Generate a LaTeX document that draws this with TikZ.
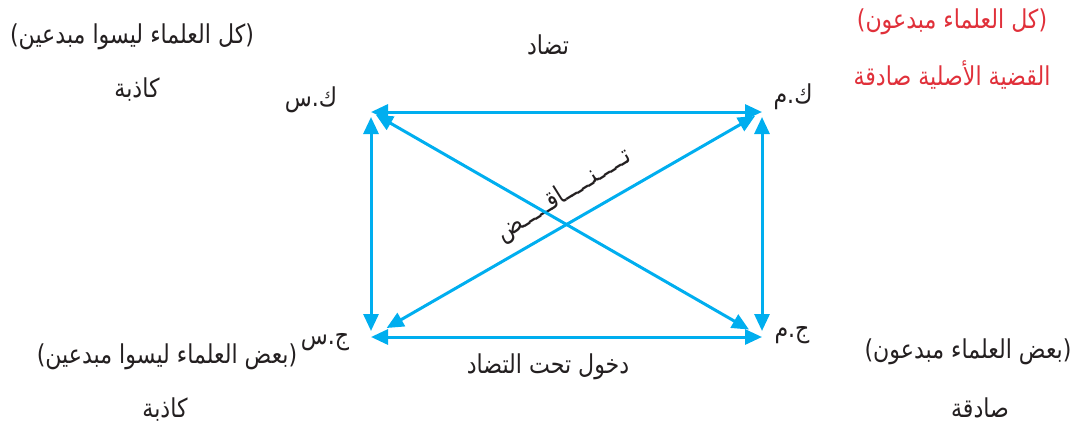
\documentclass[tikz,border=0pt]{standalone}
\usepackage{fontspec}
\usetikzlibrary{
	positioning,
	arrows.meta
}
\TeXXeTstate=1
\newfontfamily\arabicfont[Script=Arabic, FakeStretch=0.85]{DejaVu Sans}
\definecolor{linkcolor}{HTML}{00AEEF}
\definecolor{truecolor}{HTML}{E0303A}
\definecolor{labelcolor}{HTML}{231F20}
\newcommand{\artext}[1]{\beginR #1\endR}
\tikzset{
	lbl/.style={
		text=labelcolor,
		inner sep=0pt,
		font=\arabicfont\fontsize{13}{15}\selectfont
	},
	redlbl/.style={
		lbl,
		text=truecolor
	},
	relarrow/.style={
		{Triangle[length=8.5pt,width=7.5pt]}-{Triangle[length=8.5pt,width=7.5pt]},
		draw=linkcolor,
		line width=1.5pt
	}
}

\begin{document}
\begin{tikzpicture}[x=0.5pt,y=-0.5pt]
	\useasboundingbox (0,0) rectangle (1091,429);
	
	% Corners of the square
	\coordinate (ks) at (371,112);
	\coordinate (km) at (762,112);
	\coordinate (js) at (371,337);
	\coordinate (jm) at (762,337);
	
	% Corner labels
	\node[lbl] (ks_label) at (311,100) {\artext{ك.س}};
	\node[lbl] (km_label) at (793,97) {\artext{ك.م}};
	\node[lbl] (js_label) at (325,342) {\artext{ج.س}};
	\node[lbl] (jm_label) at (792,335) {\artext{ج.م}};
	
	% Relations
	\node[lbl] (contrary) at (548,45) {\artext{تضاد}};
	\node[lbl] (subcontrary) at (548,367) {\artext{دخول تحت التضاد}};
	\node[lbl, rotate=32] (contradiction) at (564,195) {\artext{تـــــنـــــاقـــــض}};
	
	% Statements
	\node[lbl] (ks_text) at (132,37) {\artext{(كل العلماء ليسوا مبدعين)}};
	\node[lbl] (ks_value) at (137,90) {\artext{كاذبة}};
	\node[redlbl] (km_text) at (952,22) {\artext{(كل العلماء مبدعون)}};
	\node[redlbl] (km_value) at (952,75) {\artext{القضية الأصلية صادقة}};
	\node[lbl] (js_text) at (167,357) {\artext{(بعض العلماء ليسوا مبدعين)}};
	\node[lbl] (js_value) at (165,410) {\artext{كاذبة}};
	\node[lbl] (jm_text) at (968,352) {\artext{(بعض العلماء مبدعون)}};
	\node[lbl] (jm_value) at (980,408) {\artext{صادقة}};
	
	% Arrows
	\draw[relarrow] (ks) -- (km);
	\draw[relarrow] (js) -- (jm);
	\draw[relarrow, shorten <=2.5pt, shorten >=3pt] (ks) -- (js);
	\draw[relarrow, shorten <=2.5pt, shorten >=3pt] (km) -- (jm);
	\draw[relarrow, shorten <=2.8pt, shorten >=7.5pt] (ks) -- (jm);
	\draw[relarrow, shorten <=9pt, shorten >=4pt] (js) -- (km);
	
\end{tikzpicture}
\end{document}
